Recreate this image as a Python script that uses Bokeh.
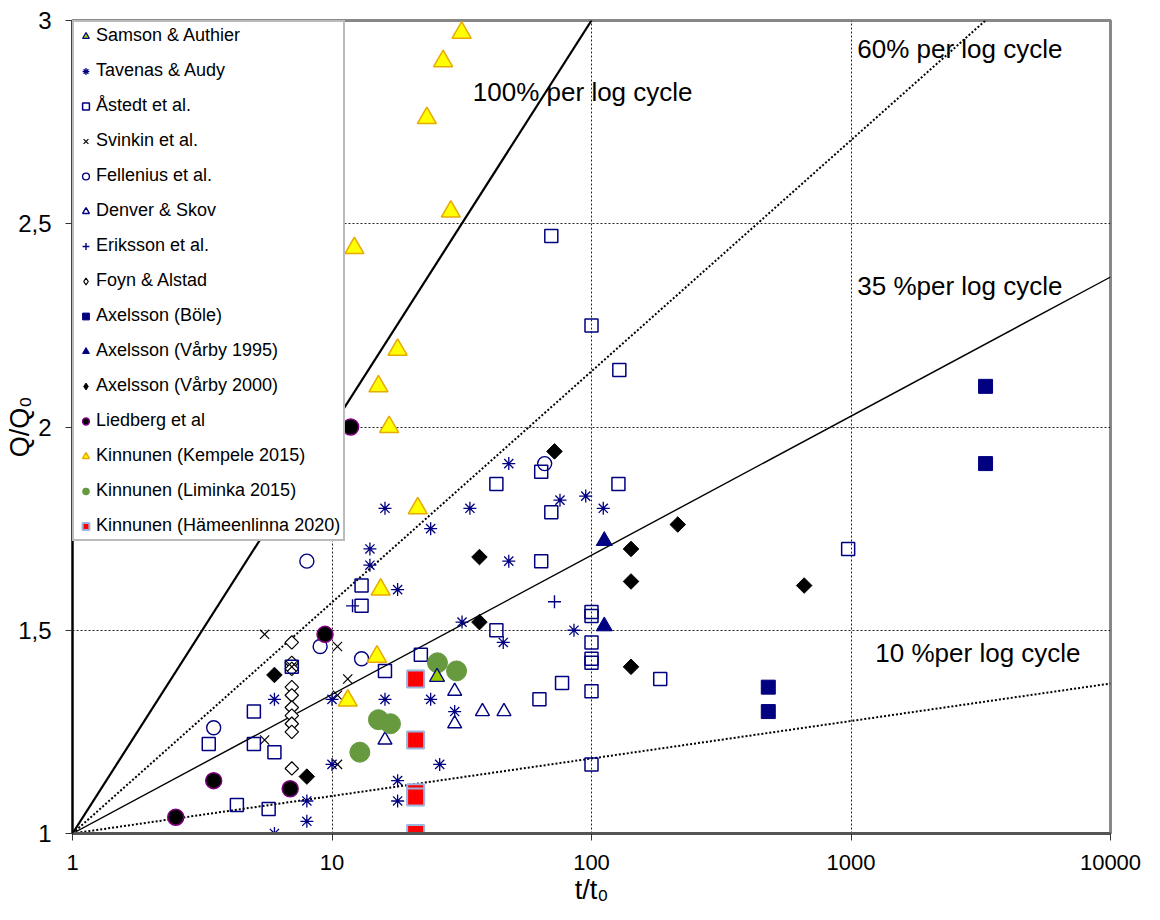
import math
from bokeh.plotting import figure
from bokeh.models import (Range1d, FixedTicker, CustomJSTickFormatter, Label,
                          Legend, LegendItem)
from bokeh.embed import file_html
from bokeh.resources import INLINE

# ---------------- data ----------------
samson_x = [25.4]
samson_y = [1.385]

tavenas_x = [6, 10, 16, 24, 29.7, 10, 26, 8, 8, 6, 17.9, 17.9, 14, 14, 16, 34, 48,
             24, 17.9, 75.6, 95, 111, 48, 31.7, 85.6, 45.7]
tavenas_y = [1.33, 1.33, 1.33, 1.33, 1.30, 1.17, 1.17, 1.08, 1.03, 1.0, 1.13, 1.08,
             1.70, 1.66, 1.80, 1.80, 1.91, 1.75, 1.60, 1.82, 1.83, 1.80, 1.67, 1.52,
             1.50, 1.47]

astedt_x = [13, 13, 7, 5, 3.35, 5, 6, 4.3, 5.7, 43, 64, 127, 70, 64, 43, 100, 100,
            100, 100, 100, 100, 100, 22, 16, 63, 77, 184, 70, 100, 128, 975]
astedt_y = [1.61, 1.56, 1.41, 1.30, 1.22, 1.22, 1.20, 1.07, 1.06, 1.86, 1.89, 1.86,
            1.79, 1.67, 1.50, 1.545, 1.535, 1.47, 1.43, 1.42, 1.35, 1.17, 1.44, 1.40,
            1.33, 1.37, 1.38, 2.47, 2.25, 2.14, 1.70]

svinkin_x = [5.5, 10.5, 7, 11.5, 10.5, 5.5, 10.5]
svinkin_y = [1.49, 1.46, 1.41, 1.38, 1.34, 1.23, 1.17]

fellenius_x = [8, 9, 13, 3.5, 66]
fellenius_y = [1.67, 1.46, 1.43, 1.26, 1.91]

denver_x = [29.7, 29.7, 38, 46, 16]
denver_y = [1.35, 1.27, 1.30, 1.30, 1.23]

eriksson_x = [12, 72]
eriksson_y = [1.56, 1.57]

foyn_x = [7, 7, 7, 7, 7, 7, 7, 7, 7, 7]
foyn_y = [1.47, 1.42, 1.405, 1.36, 1.34, 1.31, 1.29, 1.27, 1.25, 1.16]

bole_x = [3300, 3300, 480, 480]
bole_y = [2.10, 1.91, 1.36, 1.30]

varby95_x = [112, 112]
varby95_y = [1.72, 1.51]

varby00_x = [6, 8, 37, 37, 72, 142, 142, 142, 215, 660]
varby00_y = [1.39, 1.14, 1.68, 1.52, 1.94, 1.70, 1.62, 1.41, 1.76, 1.61]

liedberg_x = [11.8, 9.4, 3.5, 6.9, 2.5]
liedberg_y = [2.0, 1.49, 1.13, 1.11, 1.04]

kempele_x = [31.6, 26.8, 23.2, 28.7, 12.2, 17.9, 15.1, 16.6, 21.4, 15.4, 14.9, 11.5]
kempele_y = [2.97, 2.90, 2.76, 2.53, 2.44, 2.19, 2.10, 2.00, 1.80, 1.60, 1.435, 1.327]

liminka_x = [25.5, 30.2, 15.1, 16.8, 12.8]
liminka_y = [1.42, 1.40, 1.28, 1.27, 1.20]

hameen_x = [21, 21, 21, 21, 21]
hameen_y = [1.38, 1.23, 1.10, 1.09, 1.00]

# reference lines (end points)
line100_x = [1, 100]
line100_y = [1, 3]
line60_x = [1, 10000]
line60_y = [1, 3.274]
line35_x = [1, 10000]
line35_y = [1, 2.369]
line10_x = [1, 10000]
line10_y = [1, 1.369]

x_ticks = [1, 10, 100, 1000, 10000]
y_ticks = [1, 1.5, 2, 2.5, 3]

FONT = "Liberation Sans"
NAVY = "#000080"

p = figure(width=1160, height=920, x_axis_type="log",
           x_range=Range1d(1, 10000), y_range=Range1d(1, 3),
           output_backend="svg", toolbar_location=None,
           min_border_left=72, min_border_right=50, min_border_top=20,
           min_border_bottom=87)
p.background_fill_color = "white"
p.border_fill_color = "white"
p.outline_line_color = "#888888"
p.outline_line_width = 3

# axes
p.xaxis.ticker = FixedTicker(ticks=x_ticks, minor_ticks=[])
p.xaxis.formatter = CustomJSTickFormatter(code="return tick.toFixed(0)")
p.yaxis.ticker = FixedTicker(ticks=y_ticks, minor_ticks=[])
p.yaxis.formatter = CustomJSTickFormatter(code="return String(tick).replace('.', ',')")
for ax in (p.xaxis, p.yaxis):
    ax.major_tick_in = 0
    ax.major_tick_out = 7
    ax.minor_tick_in = 0
    ax.minor_tick_out = 0
    ax.major_label_text_font = FONT
    ax.major_label_text_color = "black"
    ax.major_tick_line_color = "#333333"
    ax.major_label_standoff = 14
    ax.axis_label_text_font = FONT
    ax.axis_label_text_font_size = "27px"
    ax.axis_label_text_font_style = "normal"
    ax.axis_label_text_color = "black"
p.xaxis.major_label_text_font_size = "22px"
p.yaxis.major_label_text_font_size = "24px"
p.yaxis.axis_line_color = "black"
p.yaxis.axis_line_width = 2
p.xaxis.axis_line_color = "#555555"
p.xaxis.axis_line_width = 3
p.xaxis.axis_label = "t/t\u2080"
p.xaxis.axis_label_standoff = 2
p.yaxis.axis_label = "Q/Q\u2080"
p.yaxis.axis_label_standoff = -20

# grid
p.xgrid.ticker = FixedTicker(ticks=[10, 100, 1000])
p.ygrid.ticker = FixedTicker(ticks=[1.5, 2, 2.5])
for g in (p.xgrid, p.ygrid):
    g.grid_line_color = "#222222"
    g.grid_line_dash = "2 2"
    g.grid_line_width = 1

# reference lines
p.line(line100_x, line100_y, line_color="black", line_width=2.2)
p.line(line60_x, line60_y, line_color="black", line_width=2, line_dash="2 2")
p.line(line35_x, line35_y, line_color="black", line_width=1.4)
p.line(line10_x, line10_y, line_color="black", line_width=2, line_dash="2 2")

# legend swatches for the diamond series (hidden under the rotated squares)
leg_foyn = p.scatter(foyn_x, foyn_y, marker="diamond", size=5,
                     fill_color="white", line_color="black", line_width=1.2)
leg_v00 = p.scatter(varby00_x, varby00_y, marker="diamond", size=5,
                    fill_color="black", line_color="black")

# scatter series (draw order)
r_foyn = p.scatter(foyn_x, foyn_y, marker="square", angle=math.pi / 4, size=9.5,
                   fill_color="white", line_color="black", line_width=1.2)
r_svinkin = p.scatter(svinkin_x, svinkin_y, marker="x", size=13,
                      line_color="black", line_width=1.2)
r_tavenas = p.scatter(tavenas_x, tavenas_y, marker="asterisk", size=13,
                      line_color=NAVY, line_width=1.3)
r_astedt = p.scatter(astedt_x, astedt_y, marker="square", size=13,
                     fill_color=None, line_color=NAVY, line_width=1.5)
r_fellenius = p.scatter(fellenius_x, fellenius_y, marker="circle", size=14,
                        fill_color=None, line_color=NAVY, line_width=1.4)
r_denver = p.scatter(denver_x, denver_y, marker="triangle", size=14,
                     fill_color=None, line_color=NAVY, line_width=1.4)
r_eriksson = p.scatter(eriksson_x, eriksson_y, marker="cross", size=13,
                       line_color=NAVY, line_width=1.4)
r_bole = p.scatter(bole_x, bole_y, marker="square", size=14,
                   fill_color=NAVY, line_color=NAVY)
r_v95 = p.scatter(varby95_x, varby95_y, marker="triangle", size=16,
                  fill_color=NAVY, line_color=NAVY)
r_v00 = p.scatter(varby00_x, varby00_y, marker="square", angle=math.pi / 4, size=11,
                  fill_color="black", line_color="black")
r_lied = p.scatter(liedberg_x, liedberg_y, marker="circle", size=16,
                   fill_color="black", line_color="#800080", line_width=1.5)
r_limi = p.scatter(liminka_x, liminka_y, marker="circle", size=20,
                   fill_color="#67993f", line_color="#67993f")
r_kemp = p.scatter(kempele_x, kempele_y, marker="triangle", size=19,
                   fill_color="#ffff00", line_color="#e8a900", line_width=1.5)
r_hame = p.scatter(hameen_x, hameen_y, marker="square", size=17,
                   fill_color="#ff0000", line_color="#9db3e0", line_width=2)
r_samson = p.scatter(samson_x, samson_y, marker="triangle", size=15,
                     fill_color="#99cc00", line_color=NAVY, line_width=1.2)

legend = Legend(items=[
    LegendItem(label="Samson & Authier", renderers=[r_samson]),
    LegendItem(label="Tavenas & Audy", renderers=[r_tavenas]),
    LegendItem(label="Åstedt et al.", renderers=[r_astedt]),
    LegendItem(label="Svinkin et al.", renderers=[r_svinkin]),
    LegendItem(label="Fellenius et al.", renderers=[r_fellenius]),
    LegendItem(label="Denver & Skov", renderers=[r_denver]),
    LegendItem(label="Eriksson et al.", renderers=[r_eriksson]),
    LegendItem(label="Foyn & Alstad", renderers=[leg_foyn]),
    LegendItem(label="Axelsson (Böle)", renderers=[r_bole]),
    LegendItem(label="Axelsson (Vårby 1995)", renderers=[r_v95]),
    LegendItem(label="Axelsson (Vårby 2000)", renderers=[leg_v00]),
    LegendItem(label="Liedberg et al", renderers=[r_lied]),
    LegendItem(label="Kinnunen (Kempele 2015)", renderers=[r_kemp]),
    LegendItem(label="Kinnunen (Liminka 2015)", renderers=[r_limi]),
    LegendItem(label="Kinnunen (Hämeenlinna 2020)", renderers=[r_hame]),
])
legend.location = "top_left"
legend.margin = 0
legend.padding = 3
legend.spacing = 14
legend.glyph_width = 17
legend.glyph_height = 20
legend.label_height = 20
legend.label_standoff = 2
legend.label_text_font = FONT
legend.label_text_font_size = "18px"
legend.label_text_color = "black"
legend.border_line_color = "#777777"
legend.border_line_width = 2
legend.background_fill_color = "white"
legend.background_fill_alpha = 1.0
p.add_layout(legend)

# line annotations
for txt, lx, ly in [("100% per log cycle", 34.9, 2.823),
                    ("60% per log cycle", 1057, 2.931),
                    ("35 %per log cycle", 1057, 2.348),
                    ("10 %per log cycle", 1241, 1.445)]:
    p.add_layout(Label(x=lx, y=ly, text=txt, text_font=FONT, text_font_size="26px",
                       text_align="left", text_baseline="middle", text_color="black"))

open("out.html", "w").write(file_html(p, INLINE))
